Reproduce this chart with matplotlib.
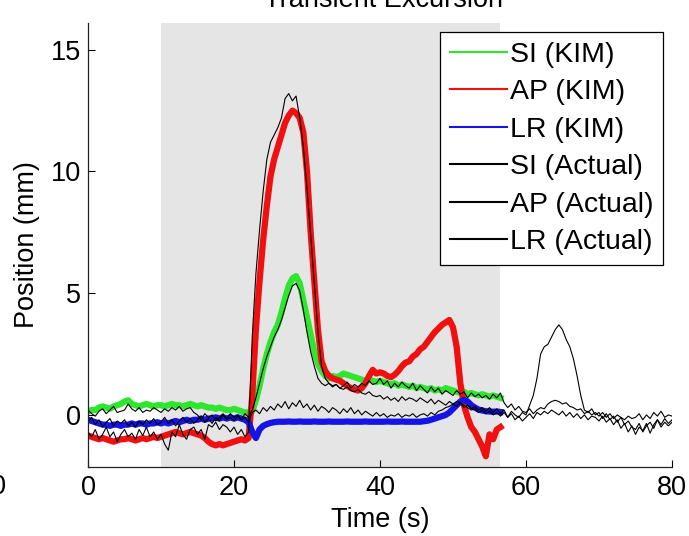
import numpy as np
import matplotlib
matplotlib.use('Agg')
import matplotlib.pyplot as plt

plt.rcParams['font.family'] = ['Liberation Sans', 'DejaVu Sans']

# sampling step of all traces (s)
dt = 0.5

# KIM estimates, 0 - 56.5 s
si_kim = [0.15, 0.2, 0.2, 0.3, 0.35, 0.3, 0.25, 0.35, 0.4, 0.45,
          0.55, 0.6, 0.45, 0.4, 0.35, 0.4, 0.45, 0.4, 0.35, 0.4,
          0.4, 0.35, 0.4, 0.45, 0.4, 0.4, 0.35, 0.4, 0.45, 0.4,
          0.35, 0.4, 0.35, 0.3, 0.3, 0.25, 0.3, 0.25, 0.2, 0.2,
          0.25, 0.2, 0.15, 0.1, 0.1, 0.15, 0.6, 1.2, 1.9, 2.5,
          3.0, 3.4, 3.7, 4.2, 4.8, 5.3, 5.6, 5.7, 5.4, 4.7,
          4.0, 3.3, 2.6, 2.1, 1.8, 1.6, 1.5, 1.6, 1.55, 1.6,
          1.7, 1.65, 1.6, 1.55, 1.5, 1.45, 1.4, 1.45, 1.4, 1.35,
          1.4, 1.35, 1.3, 1.25, 1.3, 1.2, 1.25, 1.2, 1.15, 1.2,
          1.1, 1.15, 1.1, 1.05, 1.1, 1.0, 1.05, 1.0, 1.1, 1.05,
          1.0, 0.95, 0.9, 0.95, 0.85, 0.9, 0.85, 0.8, 0.85, 0.8,
          0.75, 0.8, 0.75, 0.7]
ap_kim = [-0.85, -0.9, -0.95, -1.0, -0.95, -1.0, -1.05, -1.1, -1.05, -1.0,
          -1.0, -0.95, -1.0, -1.05, -1.0, -0.95, -1.0, -0.95, -0.9, -0.95,
          -0.9, -0.85, -0.8, -0.75, -0.7, -0.75, -0.8, -0.75, -0.7, -0.75,
          -0.8, -0.85, -0.95, -1.1, -1.2, -1.25, -1.2, -1.25, -1.2, -1.15,
          -1.1, -1.05, -1.0, -1.05, -0.95, 0.8, 3.5, 5.5, 7.2, 8.6,
          9.8, 10.5, 11.0, 11.5, 12.0, 12.3, 12.5, 12.4, 12.2, 11.6,
          10.0, 7.5, 5.5, 3.5, 2.2, 1.8, 1.6, 1.5, 1.45, 1.4,
          1.3, 1.2, 1.1, 1.05, 1.0, 1.1, 1.3, 1.6, 1.85, 1.7,
          1.75, 1.7, 1.6, 1.55, 1.65, 1.8, 2.0, 2.15, 2.2, 2.4,
          2.5, 2.7, 2.8, 3.0, 3.2, 3.4, 3.55, 3.7, 3.8, 3.9,
          3.6, 2.8, 1.3, 0.4, -0.1, -0.5, -0.7, -1.0, -1.3, -1.7,
          -0.8, -1.0, -0.6, -0.5]
lr_kim = [-0.2, -0.25, -0.3, -0.35, -0.4, -0.4, -0.45, -0.4, -0.4, -0.45,
          -0.4, -0.4, -0.35, -0.4, -0.35, -0.35, -0.4, -0.35, -0.35, -0.3,
          -0.35, -0.3, -0.35, -0.3, -0.25, -0.3, -0.25, -0.2, -0.25, -0.2,
          -0.2, -0.15, -0.2, -0.15, -0.15, -0.1, -0.15, -0.1, -0.15, -0.1,
          -0.15, -0.1, -0.15, -0.2, -0.3, -0.7, -0.95, -0.6, -0.45, -0.38,
          -0.33, -0.3, -0.28, -0.28, -0.28, -0.27, -0.28, -0.28, -0.27, -0.28,
          -0.28, -0.28, -0.27, -0.28, -0.28, -0.28, -0.27, -0.28, -0.28, -0.28,
          -0.28, -0.27, -0.28, -0.28, -0.28, -0.28, -0.27, -0.28, -0.28, -0.28,
          -0.28, -0.28, -0.27, -0.28, -0.28, -0.28, -0.27, -0.28, -0.28, -0.28,
          -0.28, -0.28, -0.26, -0.24, -0.2, -0.15, -0.1, -0.05, 0.0, 0.1,
          0.25, 0.4, 0.55, 0.62, 0.55, 0.4, 0.3, 0.22, 0.18, 0.15,
          0.14, 0.13, 0.14, 0.12]

# actual (reference) positions, 0 - 80 s
si_act = [0.2, 0.05, -0.05, 0.15, 0.25, 0.05, 0.2, 0.35, 0.1, 0.15,
          0.2, 0.45, 0.25, 0.15, 0.3, 0.1, 0.2, 0.15, 0.3, 0.2,
          0.1, 0.25, 0.15, 0.3, 0.2, 0.35, 0.15, 0.25, 0.3, 0.1,
          0.0, -0.2, 0.05, -0.1, 0.0, -0.25, -0.1, 0.05, -0.15, 0.05,
          -0.1, 0.0, -0.2, 0.05, -0.1, 0.2, 0.7, 1.3, 1.9, 2.4,
          2.8, 3.2, 3.5, 3.9, 4.4, 4.9, 5.3, 5.4, 5.1, 4.3,
          3.4, 2.6, 2.0, 1.5, 1.3, 1.2, 1.3, 1.15, 1.25, 1.1,
          1.2, 1.35, 1.1, 1.25, 1.15, 1.3, 1.2, 1.4, 1.25, 1.3,
          1.5, 1.25, 1.4, 1.1, 1.3, 1.15, 1.35, 1.2, 1.1, 1.3,
          1.0, 1.2, 1.05, 0.9, 1.15, 0.95, 1.1, 0.85, 1.0, 0.9,
          0.8, 1.0, 0.85, 0.95, 0.7, 0.9, 0.75, 0.85, 0.7, 0.8,
          0.65, 0.85, 0.7, 0.9, 0.5, 0.3, 0.45, 0.2, 0.35, 0.15,
          0.1, 0.25, 0.05, 0.2, 0.3, 0.25, 0.45, 0.55, 0.6, 0.55,
          0.45, 0.5, 0.35, 0.3, 0.2, 0.25, 0.05, 0.15, 0.0, 0.1,
          -0.05, 0.1, -0.1, 0.05, -0.15, 0.0, -0.1, -0.2, -0.05, -0.15,
          -0.1, 0.05, -0.2, 0.0, -0.15, 0.1, -0.05, 0.15, -0.1, 0.0,
          -0.05]
ap_act = [-0.7, -0.9, -0.6, -1.0, -0.8, -0.5, -0.9, -0.7, -1.1, -0.8,
          -0.6, -0.9, -0.75, -1.0, -0.6, -0.85, -0.5, -0.9, -0.7, -1.0,
          -0.8, -1.2, -1.45, -0.7, -0.9, -0.4, -0.8, -1.0, -0.6, -0.5,
          -0.8, -0.6, -1.0, -0.4, -0.5, -0.3, -0.6, -0.4, -0.5, -0.7,
          -0.5, -0.8, -0.6, -0.9, -0.7, 3.2, 5.8, 7.6, 9.2, 10.5,
          11.2, 11.5, 11.8, 12.2, 13.0, 13.2, 12.9, 13.1, 12.2, 11.0,
          9.3, 7.4, 5.4, 3.4, 2.0, 1.5, 1.3, 1.2, 1.25, 1.1,
          1.05, 1.15, 1.0, 0.95, 1.05, 0.9, 0.85, 0.95, 0.8, 0.75,
          0.8, 0.65, 0.75, 0.6, 0.7, 0.55, 0.75, 0.6, 0.7, 0.65,
          0.55, 0.7, 0.6, 0.5, 0.65, 0.45, 0.6, 0.5, 0.4, 0.55,
          0.45, 0.35, 0.5, 0.3, 0.4, 0.25, 0.35, 0.2, 0.3, 0.15,
          0.3, 0.1, 0.25, 0.05, 0.2, -0.1, 0.15, 0.0, -0.1, 0.1,
          0.0, 0.4, 0.8, 1.5, 2.5, 2.8, 2.9, 3.2, 3.5, 3.7,
          3.5, 3.1, 2.8, 2.3, 1.6, 0.8, 0.2, 0.1, 0.25, 0.0,
          0.1, -0.15, 0.05, -0.2, -0.05, -0.3, -0.1, -0.4, -0.25, -0.5,
          -0.6, -0.35, -0.7, -0.45, -0.3, -0.55, -0.2, -0.4, -0.15, -0.35,
          -0.2]
lr_act = [-0.3, -0.1, -0.4, -0.2, -0.5, -0.3, -0.15, -0.45, -0.25, -0.35,
          -0.2, -0.45, -0.3, -0.5, -0.25, -0.4, -0.2, -0.35, -0.15, -0.4,
          -0.3, -0.1, -0.35, -0.2, -0.45, -0.25, -0.1, -0.3, -0.15, -0.35,
          -0.2, -0.05, -0.3, -0.15, -0.35, -0.1, -0.25, 0.0, -0.2, -0.1,
          -0.25, -0.05, -0.2, -0.1, -0.3, 0.1, 0.2, 0.05, 0.3, 0.15,
          0.35, 0.2, 0.45, 0.3, 0.55, 0.25, 0.5, 0.35, 0.6, 0.3,
          0.45, 0.2, 0.4, 0.15, 0.35, 0.25, 0.1, 0.3, 0.2, 0.05,
          0.25, 0.1, 0.3, 0.05, 0.2, 0.0, 0.15, 0.05, -0.05, 0.1,
          -0.05, 0.05, -0.1, 0.0, -0.05, 0.05, -0.1, 0.0, -0.05, 0.05,
          -0.1, 0.0, 0.05, -0.05, 0.1, 0.0, 0.15, 0.2, 0.3, 0.35,
          0.45, 0.55, 0.5, 0.4, 0.3, 0.2, 0.25, 0.1, 0.2, 0.05,
          0.15, 0.0, 0.1, -0.05, 0.1, -0.1, 0.05, -0.2, -0.05, -0.25,
          -0.1, 0.05, -0.15, 0.1, 0.0, 0.15, 0.05, 0.2, 0.1, 0.0,
          0.15, -0.05, 0.1, -0.1, 0.05, -0.15, 0.0, -0.2, -0.05, -0.1,
          -0.25, -0.05, -0.3, -0.15, -0.4, -0.2, -0.55, -0.35, -0.7, -0.45,
          -0.8, -0.5, -0.65, -0.35, -0.75, -0.4, -0.2, -0.5, -0.3, -0.45,
          -0.3]

# shaded treatment window (s)
window = (10, 56.5)

fig = plt.figure(figsize=(6.89, 5.36), dpi=100)
ax = fig.add_axes([88 / 689, 69 / 536, 584 / 689, 444 / 536])

ax.axvspan(window[0], window[1], color='#e5e5e5', lw=0, zorder=0)

t_kim = np.arange(len(si_kim)) * dt
t_act = np.arange(len(si_act)) * dt
ax.plot(t_kim, si_kim, color='#2ee62e', lw=4.5, label='SI (KIM)')
ax.plot(t_kim, ap_kim, color='#f01010', lw=4.5, label='AP (KIM)')
ax.plot(t_kim, lr_kim, color='#1414e6', lw=4.5, label='LR (KIM)')
ax.plot(t_act, si_act, color='black', lw=0.8, label='SI (Actual)')
ax.plot(np.arange(len(ap_act)) * dt, ap_act, color='black', lw=0.8, label='AP (Actual)')
ax.plot(np.arange(len(lr_act)) * dt, lr_act, color='black', lw=0.8, label='LR (Actual)')

ax.set_xlim(0, 80)
ax.set_ylim(-2.14, 16.1)
ax.set_xticks([0, 20, 40, 60, 80])
ax.set_yticks([0, 5, 10, 15])
ax.tick_params(direction='in', length=5, labelsize=19.5, width=0.8)
ax.tick_params(axis='x', pad=6)
ax.tick_params(axis='y', pad=5)
for s in ['top', 'right']:
    ax.spines[s].set_visible(False)
for s in ['left', 'bottom']:
    ax.spines[s].set_linewidth(0.9)
    ax.spines[s].set_color('#222222')

ax.set_xlabel('Time (s)', fontsize=19.5, labelpad=4)
ax.set_ylabel('Position (mm)', fontsize=19.5, labelpad=8)

leg = ax.legend(loc='upper right', bbox_to_anchor=(663 / 689, 1 - 32 / 536),
                bbox_transform=fig.transFigure, fontsize=20.5, frameon=True,
                fancybox=False, edgecolor='black', framealpha=1,
                handlelength=2.0, handletextpad=0.1, labelspacing=0.4,
                borderpad=0.35, borderaxespad=0)
leg.get_frame().set_linewidth(0.9)
for h in leg.get_lines():
    h.set_linewidth(1.5)

# title is cut by the top edge in the reference
fig.text(384 / 689, 1 - 7 / 536, 'Transient Excursion', ha='center',
         va='baseline', fontsize=19.5)
# clipped tick label of a neighbouring panel
fig.text(-2 / 689, 1 - 487 / 536, '0', ha='center', va='center', fontsize=19.5)

fig.savefig('out.png', dpi=100)
